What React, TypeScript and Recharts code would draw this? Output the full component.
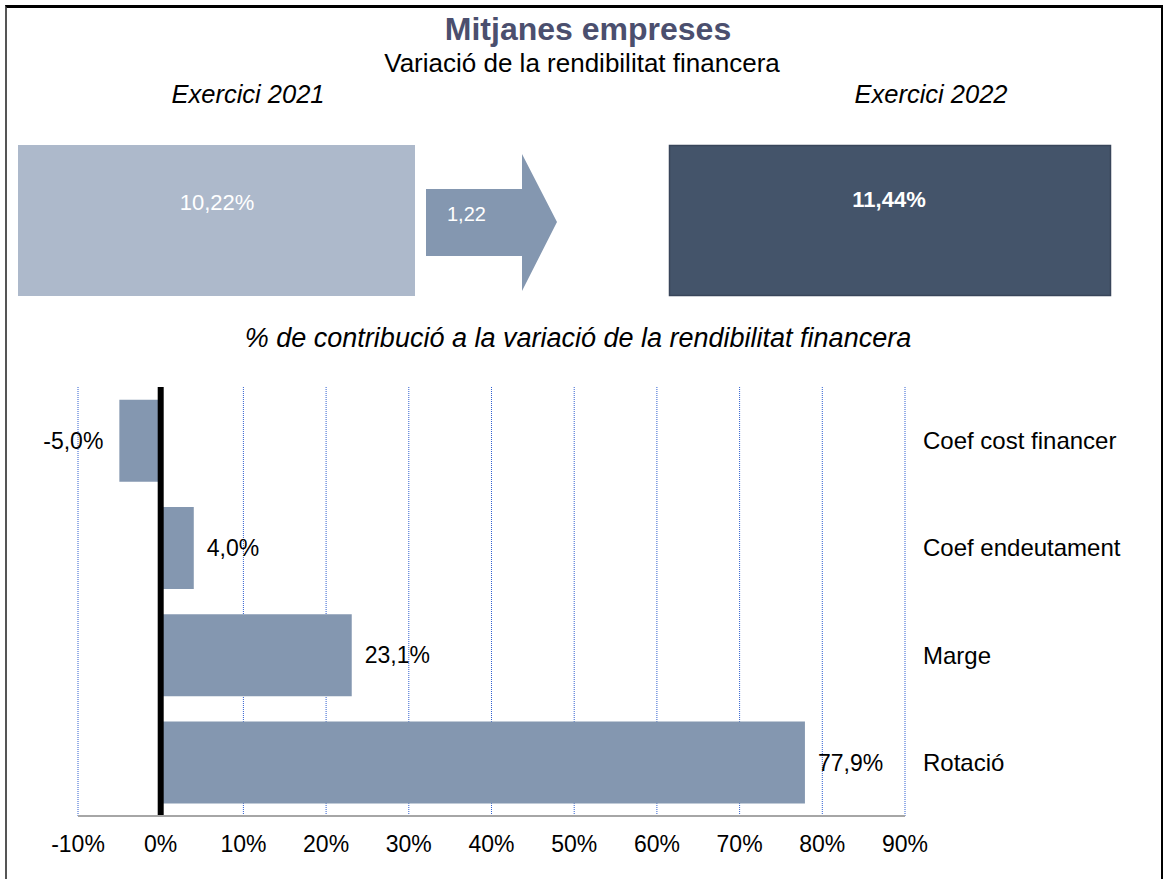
import {
  BarChart,
  Bar,
  XAxis,
  YAxis,
  CartesianGrid,
  ReferenceLine,
  LabelList,
} from "recharts";

const categories = ["Coef cost financer", "Coef endeutament", "Marge", "Rotació"];
const contributions = [-5.0, 4.0, 23.1, 77.9];
const xTicks = [-10, 0, 10, 20, 30, 40, 50, 60, 70, 80, 90];
const exercicis = ["Exercici 2021", "Exercici 2022"];
const rendibilitat = [10.22, 11.44];
const variacio = 1.22;

const FONT = '"Liberation Sans", Arial, Helvetica, sans-serif';

const data = categories.map((name, i) => ({ name, value: contributions[i] }));

const comma = (v: number, digits: number) => v.toFixed(digits).replace(".", ",");

function BarLabel(props: any) {
  const { x, y, width, height, value } = props;
  const left = Math.min(x, x + width);
  const right = Math.max(x, x + width);
  const cy = y + height / 2;
  const neg = value < 0;
  return (
    <text
      x={neg ? left - 16 : right + 13}
      y={cy}
      dy={8}
      textAnchor={neg ? "end" : "start"}
      fontSize={23}
      fontFamily={FONT}
      fill="#000"
    >
      {comma(value, 1)}%
    </text>
  );
}

function Header() {
  return (
    <svg width={1166} height={370} style={{ position: "absolute", left: 0, top: 0 }}>
      <text x={588} y={40} textAnchor="middle" fontSize={32} fontWeight="bold" fill="#4b4f6e" fontFamily={FONT}>
        Mitjanes empreses
      </text>
      <text x={582} y={72} textAnchor="middle" fontSize={26} fill="#000" fontFamily={FONT}>
        Variació de la rendibilitat financera
      </text>
      <text x={248} y={103} textAnchor="middle" fontSize={25.5} fontStyle="italic" fill="#000" fontFamily={FONT}>
        {exercicis[0]}
      </text>
      <text x={931} y={103} textAnchor="middle" fontSize={25.5} fontStyle="italic" fill="#000" fontFamily={FONT}>
        {exercicis[1]}
      </text>

      <rect x={18} y={145} width={397} height={151} fill="#adb9cb" />
      <text x={217} y={210} textAnchor="middle" fontSize={22} fill="#fff" fontFamily={FONT}>
        {comma(rendibilitat[0], 2)}%
      </text>

      <polygon points="426,189 522,189 522,154 557,222 522,291 522,256 426,256" fill="#8497b0" />
      <text x={447} y={221} fontSize={20} fill="#fff" fontFamily={FONT}>
        {comma(variacio, 2)}
      </text>

      <rect x={669.5} y={145.5} width={441} height={150} fill="#44546a" stroke="#38455a" strokeWidth={1.5} />
      <text x={889} y={207} textAnchor="middle" fontSize={22} fontWeight="bold" fill="#fff" fontFamily={FONT}>
        {comma(rendibilitat[1], 2)}%
      </text>

      <text x={578} y={347} textAnchor="middle" fontSize={27} fontStyle="italic" fill="#000" fontFamily={FONT}>
        % de contribució a la variació de la rendibilitat financera
      </text>
    </svg>
  );
}

export default function App() {
  return (
    <div
      style={{
        position: "absolute",
        left: 0,
        top: 0,
        width: 1166,
        height: 879,
        overflow: "hidden",
        background: "#fff",
        fontFamily: FONT,
      }}
    >
      <div
        style={{
          position: "absolute",
          left: 5,
          top: 5,
          width: 1154,
          height: 900,
          borderTop: "3px solid #000",
          borderLeft: "2px solid #555",
          borderRight: "2px solid #000",
        }}
      />
      <Header />
      <div style={{ position: "absolute", left: 0, top: 370 }}>
        <BarChart
          width={1166}
          height={500}
          data={data}
          layout="vertical"
          margin={{ top: 17, right: 0, bottom: 0, left: 78 }}
          barCategoryGap="12%"
        >
          <CartesianGrid horizontal={false} stroke="#2f5fd0" strokeDasharray="1 1" />
          <XAxis
            type="number"
            domain={[-10, 90]}
            ticks={xTicks}
            tickFormatter={(v: number) => `${v}%`}
            height={54}
            tickSize={0}
            tickMargin={20}
            axisLine={{ stroke: "#a6a6a6", strokeWidth: 2 }}
            tick={{ fontSize: 23, fill: "#000", fontFamily: FONT }}
            interval={0}
          />
          <YAxis
            type="category"
            dataKey="name"
            orientation="right"
            width={261}
            tickSize={0}
            tickMargin={18}
            axisLine={false}
            tickLine={false}
            tick={{ fontSize: 24, fill: "#000", fontFamily: FONT, textAnchor: "start" }}
          />
          <Bar dataKey="value" fill="#8497b0" isAnimationActive={false}>
            <LabelList dataKey="value" content={<BarLabel />} />
          </Bar>
          <ReferenceLine x={0} stroke="#000" strokeWidth={6} />
        </BarChart>
      </div>
    </div>
  );
}
